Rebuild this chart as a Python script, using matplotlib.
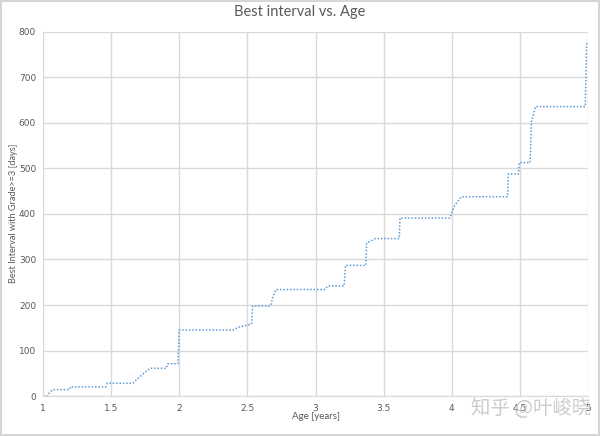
import matplotlib
matplotlib.use("Agg")
import matplotlib.pyplot as plt
from matplotlib.patches import Rectangle

# age [years] and best interval [days]
age = [1.0, 1.03, 1.05, 1.07, 1.195, 1.2, 1.46, 1.47, 1.66, 1.69, 1.71, 1.74,
       1.785, 1.905, 1.915, 1.99, 2.0, 2.40, 2.43, 2.53, 2.54, 2.67, 2.69,
       2.71, 3.07, 3.09, 3.21, 3.22, 3.37, 3.375, 3.44, 3.615, 3.62, 3.985,
       4.02, 4.07, 4.41, 4.415, 4.49, 4.495, 4.575, 4.585, 4.615, 4.98, 4.99]
interval = [0, 0, 8, 14, 14, 20, 20, 28, 28, 37, 42, 50,
            61, 61, 71, 71, 145, 145, 151, 158, 198, 198, 220,
            234, 234, 242, 242, 287, 287, 336, 346, 346, 391, 391,
            418, 438, 438, 488, 488, 513, 513, 603, 636, 636, 779]

x_ticks = [1, 1.5, 2, 2.5, 3, 3.5, 4, 4.5, 5]
x_tick_labels = ["1", "1.5", "2", "2.5", "3", "3.5", "4", "4.5", "5"]
y_ticks = [0, 100, 200, 300, 400, 500, 600, 700, 800]

grey_text = "#595959"
grid_col = "#d9d9d9"

fig = plt.figure(figsize=(6, 4.36), dpi=100)
fig.patches.append(Rectangle((0.002, 0.002), 0.996, 0.996, transform=fig.transFigure,
                             fill=False, edgecolor="#d6d6d6", linewidth=1.5))

ax = fig.add_axes([0.0717, 0.0917, 0.9083, 0.835])
ax.plot(age, interval, color="#5b9bd5", linewidth=1.1, linestyle=(0, (1, 1.2)))

ax.set_xlim(1, 5)
ax.set_ylim(0, 800)
ax.set_xticks(x_ticks)
ax.set_xticklabels(x_tick_labels)
ax.set_yticks(y_ticks)
ax.tick_params(length=0, labelsize=6.5, colors=grey_text)
ax.tick_params(axis="y", pad=5)
ax.tick_params(axis="x", pad=6)
ax.grid(True, color=grid_col, linewidth=1)
ax.set_axisbelow(True)
for s in ["top", "right"]:
    ax.spines[s].set_visible(False)
for s in ["left", "bottom"]:
    ax.spines[s].set_color(grid_col)

fig.text(0.5, 0.972, "Best interval vs. Age", ha="center", va="center",
         fontsize=10.5, color=grey_text, family="Lato")
fig.text(0.527, 0.045, "Age [years]", ha="center", va="center",
         fontsize=7, color=grey_text, family="Lato")
fig.text(0.022, 0.51, "Best Interval with Grade>=3 [days]", ha="center", va="center",
         rotation=90, fontsize=6.6, color=grey_text, family="Lato")

# watermark
fig.text(0.885, 0.062, "知乎 @叶峻晓", ha="center", va="center", fontsize=14,
         color="#cccccc", family=["Noto Sans CJK SC", "DejaVu Sans"])

fig.savefig("out.png", dpi=100)
